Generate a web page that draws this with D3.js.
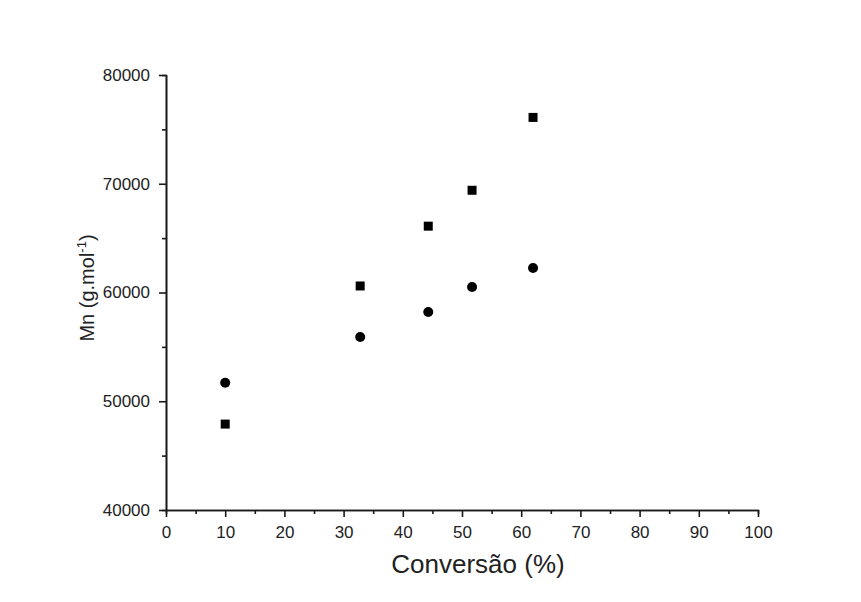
<!DOCTYPE html>
<html>
<head>
<meta charset="utf-8">
<script src="https://cdn.jsdelivr.net/npm/d3@7/dist/d3.min.js"></script>
<style>
  html, body { margin: 0; padding: 0; background: #fff; }
  svg { display: block; font-family: "Liberation Sans", Arial, sans-serif; }
</style>
</head>
<body>
<svg id="chart" width="861" height="602"></svg>
<script>
// Conversion (%) and number-average molar mass Mn (g/mol)
const conversion = [10, 32.8, 44.3, 51.7, 62.0];
const mnSquares = [47900, 60600, 66100, 69400, 76100];
const mnCircles = [51700, 55900, 58200, 60500, 62250];

const xTicks = [0, 10, 20, 30, 40, 50, 60, 70, 80, 90, 100];
const yTicks = [40000, 50000, 60000, 70000, 80000];

const svg = d3.select("#chart");
const plotLeft = 166, plotRight = 758, plotTop = 75, plotBottom = 510;

const x = d3.scaleLinear().domain([0, 100]).range([plotLeft, plotRight]);
const y = d3.scaleLinear().domain([40000, 80000]).range([plotBottom, plotTop]);

const ink = "#1a1a1a";
const textCol = "#222";

// x axis: minor ticks, then major ticks with labels
svg.append("g").attr("transform", `translate(0,${plotBottom})`)
  .call(d3.axisBottom(x).tickValues(d3.range(5, 100, 10)).tickSize(4).tickFormat(""));
svg.append("g").attr("transform", `translate(0,${plotBottom})`)
  .call(d3.axisBottom(x).tickValues(xTicks).tickSize(7).tickSizeOuter(0).tickPadding(9).tickFormat(d3.format("d")));

// y axis: minor ticks, then major ticks with labels
svg.append("g").attr("transform", `translate(${plotLeft},0)`)
  .call(d3.axisLeft(y).tickValues(d3.range(45000, 80000, 10000)).tickSize(4).tickFormat(""));
svg.append("g").attr("transform", `translate(${plotLeft},0)`)
  .call(d3.axisLeft(y).tickValues(yTicks).tickSize(7).tickSizeOuter(0).tickPadding(9).tickFormat(d3.format("d")));

svg.selectAll(".domain").attr("stroke", ink).attr("stroke-width", 1.6);
svg.selectAll(".tick line").attr("stroke", ink).attr("stroke-width", 1.6);
svg.selectAll(".tick text").attr("fill", textCol).style("font-size", "17px");

// markers
svg.append("g").selectAll("rect").data(conversion).join("rect")
  .attr("x", (d) => x(d) - 4.5)
  .attr("y", (d, i) => y(mnSquares[i]) - 4.5)
  .attr("width", 9).attr("height", 9)
  .attr("fill", "#000");

svg.append("g").selectAll("circle").data(conversion).join("circle")
  .attr("cx", (d) => x(d))
  .attr("cy", (d, i) => y(mnCircles[i]))
  .attr("r", 5)
  .attr("fill", "#000");

// axis titles
svg.append("text")
  .attr("x", 478).attr("y", 573)
  .attr("text-anchor", "middle")
  .attr("fill", textCol)
  .style("font-size", "26px")
  .text("Conversão (%)");

const yt = svg.append("text")
  .attr("transform", `translate(94,288) rotate(-90)`)
  .attr("text-anchor", "middle")
  .attr("fill", textCol)
  .style("font-size", "20px");
yt.append("tspan").text("Mn (g.mol");
yt.append("tspan").attr("dy", -8).style("font-size", "13px").text("-1");
yt.append("tspan").attr("dy", 8).text(")");
</script>
</body>
</html>
